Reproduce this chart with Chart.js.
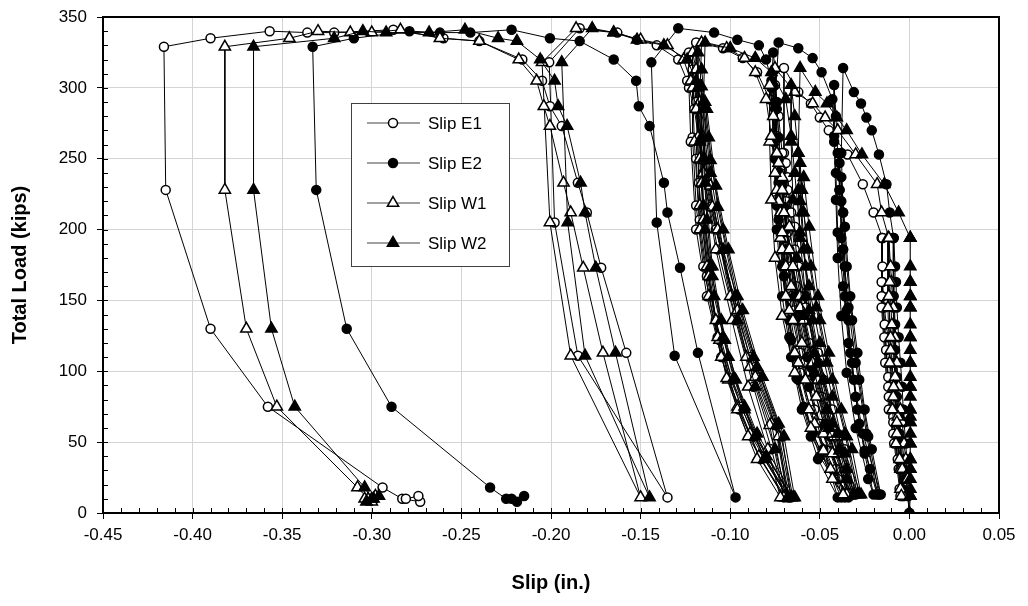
<!DOCTYPE html>
<html>
<head>
<meta charset="utf-8">
<script src="https://cdn.jsdelivr.net/npm/chart.js@4.4.1/dist/chart.umd.min.js"></script>
<style>
  html, body { margin: 0; padding: 0; background: #fff; }
  #wrap { width: 1028px; height: 606px; }
</style>
</head>
<body>
<div id="wrap"><canvas id="chart" width="1028" height="606"></canvas></div>
<script>
// total load (kips), shared by the four slip gauges
const loads = [
  0, 12, 24, 38, 49, 64, 73, 89, 106, 124, 145, 163, 174, 194,
  153, 115, 82, 56, 31, 12, 31, 68, 96, 133, 163, 194,
  145, 106, 73, 49, 17, 12, 38, 64, 89, 124, 153, 194,
  212, 232, 253, 270, 279, 289, 297, 314,
  254, 212, 174, 136, 94, 56, 13, 45, 73, 113, 153, 202, 237,
  220, 186, 143, 106, 63, 31, 13, 54, 94, 136, 174, 212, 247,
  228, 194, 153, 113, 73, 44, 13, 56, 106, 145, 186, 228, 254, 280, 302,
  262, 221, 180, 139, 99, 60, 24, 13, 42, 82, 120, 160, 198, 240, 266,
  292, 311, 321, 328, 332,
  290, 233, 174, 136, 94, 56, 11, 54, 96, 143, 186, 231, 285,
  250, 207, 167, 122, 75, 40, 11, 63, 103, 153, 200, 249, 301,
  265, 217, 174, 124, 95, 54, 11, 62, 110, 153, 216, 265, 290, 313, 325,
  300, 262, 200, 153, 110, 73, 38, 11, 45, 89, 136, 186, 240, 285,
  305, 320, 330, 334, 339, 342,
  318, 205, 111, 11, 113, 173, 212, 233, 273, 287, 305, 320,
  333, 335, 341, 339, 339, 340, 335, 329,
  228, 130, 75, 18, 10, 8, 12, 10
]

const slipE1 = [
  0, -0.001, -0.002, -0.003, -0.004, -0.006, -0.007, -0.009, -0.011, -0.012, -0.014, -0.015, -0.015, -0.015,
  -0.0152, -0.013, -0.0115, -0.009, -0.006, -0.0045, -0.005, -0.009, -0.0118, -0.0138, -0.0155, -0.0155,
  -0.0155, -0.0135, -0.0115, -0.0085, -0.0055, -0.005, -0.0065, -0.009, -0.0118, -0.014, -0.0155, -0.015,
  -0.020, -0.026, -0.0345, -0.045, -0.050, -0.055, -0.062, -0.070,
  -0.070, -0.068, -0.066, -0.062, -0.055, -0.046, -0.030, -0.036, -0.043, -0.051, -0.058, -0.064, -0.068,
  -0.069, -0.068, -0.064, -0.059, -0.050, -0.041, -0.031, -0.039, -0.048, -0.056, -0.062, -0.066, -0.069,
  -0.070, -0.069, -0.066, -0.061, -0.053, -0.045, -0.032, -0.040, -0.051, -0.058, -0.064, -0.068, -0.071, -0.073, -0.075,
  -0.075, -0.074, -0.072, -0.068, -0.061, -0.052, -0.040, -0.034, -0.040, -0.049, -0.056, -0.063, -0.068, -0.072, -0.074,
  -0.078, -0.085, -0.093, -0.104, -0.119,
  -0.119, -0.1175, -0.113, -0.108, -0.099, -0.086, -0.066, -0.071, -0.083, -0.094, -0.104, -0.112, -0.118,
  -0.119, -0.117, -0.113, -0.106, -0.094, -0.081, -0.067, -0.075, -0.086, -0.098, -0.108, -0.115, -0.121,
  -0.121, -0.119, -0.115, -0.107, -0.100, -0.087, -0.068, -0.075, -0.089, -0.099, -0.111, -0.117, -0.119, -0.121, -0.123,
  -0.123, -0.122, -0.119, -0.113, -0.105, -0.095, -0.083, -0.070, -0.077, -0.087, -0.097, -0.107, -0.115, -0.120,
  -0.124, -0.129, -0.141, -0.152, -0.163, -0.184,
  -0.201, -0.198, -0.185, -0.135, -0.158, -0.172, -0.180, -0.185, -0.194, -0.2006, -0.205, -0.216,
  -0.240, -0.260, -0.288, -0.321, -0.336, -0.357, -0.390, -0.416,
  -0.415, -0.390, -0.358, -0.294, -0.283, -0.273, -0.274, -0.281
]

const slipE2 = [
  0, -0.0005, -0.001, -0.0015, -0.002, -0.003, -0.0035, -0.004, -0.005, -0.006, -0.007, -0.0075, -0.008, -0.0088,
  -0.0088, -0.008, -0.007, -0.0055, -0.004, -0.003, -0.0035, -0.0055, -0.007, -0.008, -0.0088, -0.009,
  -0.009, -0.0085, -0.0075, -0.006, -0.004, -0.0035, -0.0045, -0.006, -0.0075, -0.0085, -0.009, -0.0088,
  -0.011, -0.0128, -0.017, -0.021, -0.024, -0.027, -0.031, -0.037,
  -0.038, -0.037, -0.036, -0.034, -0.031, -0.026, -0.016, -0.021, -0.025, -0.029, -0.033, -0.036, -0.038,
  -0.038, -0.037, -0.035, -0.032, -0.028, -0.022, -0.017, -0.023, -0.028, -0.032, -0.035, -0.037, -0.039,
  -0.039, -0.038, -0.036, -0.033, -0.029, -0.025, -0.018, -0.024, -0.030, -0.034, -0.037, -0.039, -0.040, -0.041, -0.042,
  -0.042, -0.041, -0.040, -0.038, -0.035, -0.030, -0.023, -0.020, -0.025, -0.030, -0.034, -0.037, -0.040, -0.041, -0.042,
  -0.043, -0.049, -0.054, -0.062, -0.073,
  -0.075, -0.073, -0.070, -0.067, -0.062, -0.054, -0.038, -0.044, -0.053, -0.061, -0.067, -0.071, -0.074,
  -0.075, -0.073, -0.070, -0.066, -0.059, -0.050, -0.036, -0.047, -0.055, -0.063, -0.069, -0.073, -0.076,
  -0.076, -0.074, -0.071, -0.067, -0.063, -0.055, -0.034, -0.046, -0.057, -0.064, -0.070, -0.073, -0.074, -0.075, -0.076,
  -0.077, -0.076, -0.074, -0.071, -0.066, -0.060, -0.051, -0.040, -0.048, -0.056, -0.063, -0.069, -0.073, -0.075,
  -0.077, -0.080, -0.084, -0.096, -0.109, -0.129,
  -0.144, -0.141, -0.131, -0.097, -0.118, -0.128, -0.135, -0.137, -0.145, -0.151, -0.1525, -0.165,
  -0.184, -0.2006, -0.222, -0.245, -0.262, -0.279, -0.310, -0.333,
  -0.331, -0.314, -0.289, -0.234, -0.225, -0.219, -0.215, -0.222
]

const slipW1 = [
  0, -0.0005, -0.001, -0.002, -0.003, -0.004, -0.005, -0.006, -0.007, -0.008, -0.009, -0.010, -0.0105, -0.0115,
  -0.0115, -0.0105, -0.009, -0.007, -0.005, -0.0035, -0.004, -0.0065, -0.008, -0.0098, -0.011, -0.012,
  -0.012, -0.011, -0.0095, -0.0075, -0.005, -0.0045, -0.0055, -0.007, -0.0088, -0.0105, -0.0115, -0.0115,
  -0.0155, -0.018, -0.030, -0.040, -0.047, -0.054, -0.064, -0.075,
  -0.074, -0.072, -0.069, -0.065, -0.058, -0.048, -0.033, -0.039, -0.046, -0.054, -0.061, -0.067, -0.071,
  -0.073, -0.071, -0.067, -0.062, -0.053, -0.044, -0.034, -0.042, -0.051, -0.059, -0.065, -0.070, -0.073,
  -0.074, -0.072, -0.069, -0.064, -0.056, -0.048, -0.035, -0.043, -0.054, -0.061, -0.067, -0.071, -0.074, -0.076, -0.078,
  -0.078, -0.077, -0.075, -0.071, -0.064, -0.055, -0.043, -0.037, -0.043, -0.052, -0.060, -0.066, -0.071, -0.075, -0.077,
  -0.080, -0.086, -0.092, -0.102, -0.116,
  -0.117, -0.116, -0.112, -0.108, -0.101, -0.089, -0.068, -0.073, -0.086, -0.096, -0.105, -0.111, -0.116,
  -0.117, -0.115, -0.112, -0.106, -0.096, -0.084, -0.069, -0.077, -0.089, -0.099, -0.107, -0.114, -0.118,
  -0.118, -0.117, -0.113, -0.107, -0.102, -0.090, -0.070, -0.078, -0.091, -0.100, -0.110, -0.115, -0.117, -0.119, -0.121,
  -0.121, -0.120, -0.117, -0.112, -0.105, -0.096, -0.085, -0.072, -0.079, -0.090, -0.099, -0.108, -0.115, -0.119,
  -0.122, -0.126, -0.135, -0.150, -0.165, -0.186,
  -0.205, -0.2006, -0.189, -0.150, -0.171, -0.182, -0.189, -0.193, -0.2006, -0.204, -0.208, -0.218,
  -0.240, -0.262, -0.284, -0.300, -0.312, -0.330, -0.346, -0.382,
  -0.382, -0.370, -0.353, -0.308, -0.302, -0.300, -0.298, -0.304
]

const slipW2 = [
  0, 0.0005, 0.0005, 0.0005, 0.0005, 0.0005, 0.0005, 0.0005, 0.0005, 0.0005, 0.0005, 0.0005, 0.0005, 0.0005,
  0.0005, 0.0005, 0.0005, 0.0005, 0.0005, 0.0005, 0.0005, 0.0005, 0.0005, 0.0005, 0.0005, 0.0005,
  0.0005, 0.0005, 0.0005, 0.0005, 0.0005, 0.0005, 0.0005, 0.0005, 0.0005, 0.0005, 0.0005, 0.0005,
  -0.006, -0.014, -0.0265, -0.035, -0.0405, -0.046, -0.0525, -0.061,
  -0.062, -0.060, -0.058, -0.054, -0.048, -0.040, -0.027, -0.032, -0.038, -0.045, -0.051, -0.056, -0.059,
  -0.061, -0.059, -0.056, -0.051, -0.043, -0.035, -0.028, -0.035, -0.043, -0.050, -0.055, -0.059, -0.061,
  -0.062, -0.061, -0.058, -0.053, -0.046, -0.039, -0.029, -0.036, -0.046, -0.052, -0.057, -0.060, -0.062, -0.064, -0.066,
  -0.066, -0.065, -0.063, -0.059, -0.053, -0.045, -0.035, -0.031, -0.036, -0.043, -0.050, -0.056, -0.061, -0.064, -0.066,
  -0.069, -0.077, -0.086, -0.100, -0.114,
  -0.115, -0.114, -0.110, -0.105, -0.097, -0.085, -0.064, -0.070, -0.082, -0.093, -0.101, -0.108, -0.113,
  -0.115, -0.113, -0.110, -0.103, -0.092, -0.080, -0.065, -0.073, -0.085, -0.096, -0.104, -0.111, -0.116,
  -0.116, -0.115, -0.111, -0.104, -0.098, -0.086, -0.066, -0.074, -0.087, -0.097, -0.107, -0.112, -0.114, -0.116, -0.118,
  -0.118, -0.117, -0.114, -0.109, -0.101, -0.092, -0.081, -0.068, -0.075, -0.086, -0.096, -0.104, -0.111, -0.115,
  -0.119, -0.124, -0.137, -0.152, -0.165, -0.177,
  -0.194, -0.1907, -0.181, -0.145, -0.164, -0.175, -0.181, -0.1835, -0.191, -0.196, -0.198, -0.206,
  -0.219, -0.2295, -0.248, -0.268, -0.292, -0.305, -0.321, -0.366,
  -0.366, -0.356, -0.343, -0.304, -0.300, -0.303, -0.296, -0.299
]

const seriesNames = ['Slip E1', 'Slip E2', 'Slip W1', 'Slip W2']
const xTicks = [-0.45, -0.40, -0.35, -0.30, -0.25, -0.20, -0.15, -0.10, -0.05, 0.00, 0.05]
const yTicks = [0, 50, 100, 150, 200, 250, 300, 350]

const family = 'Arial, "Liberation Sans", sans-serif'

const toPoints = (slips) => loads.map((v, i) => ({ x: slips[i], y: v }))

function series(label, slips, shape, fill, order) {
    return {
        label: label,
        data: toPoints(slips),
        showLine: true,
        borderColor: '#000',
        borderWidth: 1,
        pointStyle: shape,
        pointRadius: shape === 'triangle' ? 6.5 : 4.5,
        pointBorderWidth: 1.5,
        pointBorderColor: '#000',
        pointBackgroundColor: fill,
        order: order
    }
}

// minor ticks inside the axes and the black frame round the plot
const frameTicks = {
    id: 'frameTicks',
    afterDatasetsDraw(chart) {
        const { ctx, chartArea: a, scales: { x, y } } = chart
        ctx.save()
        ctx.strokeStyle = '#000'
        ctx.lineWidth = 1
        ctx.beginPath()
        for (let v = 0; v <= 350; v += 10) {
            const py = Math.round(y.getPixelForValue(v)) + 0.5
            ctx.moveTo(a.left, py)
            ctx.lineTo(a.left + 5, py)
        }
        for (let i = 0; i <= 50; i++) {
            const px = Math.round(x.getPixelForValue(-0.45 + i * 0.01)) + 0.5
            ctx.moveTo(px, a.bottom)
            ctx.lineTo(px, a.bottom - 5)
        }
        ctx.stroke()
        ctx.lineWidth = 2
        ctx.strokeRect(a.left, a.top, a.width, a.height)
        ctx.restore()
    }
}

const legendBox = {
    id: 'legendBox',
    afterDraw(chart) {
        const { ctx, chartArea: a } = chart
        const bx = a.left + 248, by = a.top + 86, bw = 158, bh = 163
        ctx.save()
        ctx.fillStyle = '#fff'
        ctx.fillRect(bx, by, bw, bh)
        ctx.strokeStyle = '#404040'
        ctx.lineWidth = 1
        ctx.strokeRect(bx + 0.5, by + 0.5, bw, bh)
        chart.data.datasets.forEach((ds, i) => {
            const cy = by + 20 + i * 40
            ctx.strokeStyle = '#808080'
            ctx.lineWidth = 1.5
            ctx.beginPath()
            ctx.moveTo(bx + 16, cy)
            ctx.lineTo(bx + 69, cy)
            ctx.stroke()
            ctx.fillStyle = ds.pointBackgroundColor
            ctx.strokeStyle = '#000'
            ctx.lineWidth = ds.pointBorderWidth
            Chart.helpers.drawPoint(ctx, {
                pointStyle: ds.pointStyle,
                radius: ds.pointRadius,
                borderWidth: ds.pointBorderWidth,
                rotation: 0
            }, bx + 42, cy)
            ctx.fillStyle = '#000'
            ctx.font = '17px ' + family
            ctx.textAlign = 'left'
            ctx.textBaseline = 'middle'
            ctx.fillText(ds.label, bx + 77, cy + 1)
        })
        ctx.restore()
    }
}

function createChart() {
    const ctx = document.getElementById('chart').getContext('2d')

    new Chart(ctx, {
        type: 'scatter',
        plugins: [frameTicks, legendBox],
        data: {
            datasets: [
                series(seriesNames[0], slipE1, 'circle', '#fff', 4),
                series(seriesNames[1], slipE2, 'circle', '#000', 3),
                series(seriesNames[2], slipW1, 'triangle', '#fff', 2),
                series(seriesNames[3], slipW2, 'triangle', '#000', 1)
            ]
        },
        options: {
            responsive: false,
            animation: false,
            devicePixelRatio: 1,
            events: [],
            layout: {
                padding: { left: 0, right: 29, top: 17, bottom: 0 }
            },
            plugins: {
                legend: { display: false },
                tooltip: { enabled: false }
            },
            scales: {
                x: {
                    type: 'linear',
                    min: -0.45,
                    max: 0.05,
                    afterBuildTicks: (s) => { s.ticks = xTicks.map(v => ({ value: v })) },
                    afterFit: (s) => { s.height = 93 },
                    ticks: {
                        callback: (v) => v.toFixed(2),
                        color: '#000',
                        font: { size: 17, family: family },
                        padding: 6,
                        maxRotation: 0,
                        autoSkip: false
                    },
                    grid: { color: '#d4d4d4', lineWidth: 1, tickColor: '#000', tickLength: 6 },
                    border: { color: '#000', width: 2 },
                    title: {
                        display: true,
                        text: 'Slip (in.)',
                        color: '#000',
                        font: { size: 20, weight: 'bold', family: family },
                        padding: { top: 0, bottom: 11 }
                    }
                },
                y: {
                    type: 'linear',
                    min: 0,
                    max: 350,
                    afterBuildTicks: (s) => { s.ticks = yTicks.map(v => ({ value: v })) },
                    afterFit: (s) => {
                        s.width = 103
                        s.paddingTop = 10
                        s.paddingBottom = 10
                    },
                    ticks: {
                        color: '#000',
                        font: { size: 17, family: family },
                        padding: 10
                    },
                    grid: { color: '#d4d4d4', lineWidth: 1, tickColor: '#000', tickLength: 6 },
                    border: { color: '#000', width: 2 },
                    title: {
                        display: true,
                        text: 'Total Load (kips)',
                        color: '#000',
                        font: { size: 20, weight: 'bold', family: family },
                        padding: { top: 8, bottom: 0 }
                    }
                }
            }
        }
    })
}

createChart()
</script>
</body>
</html>
